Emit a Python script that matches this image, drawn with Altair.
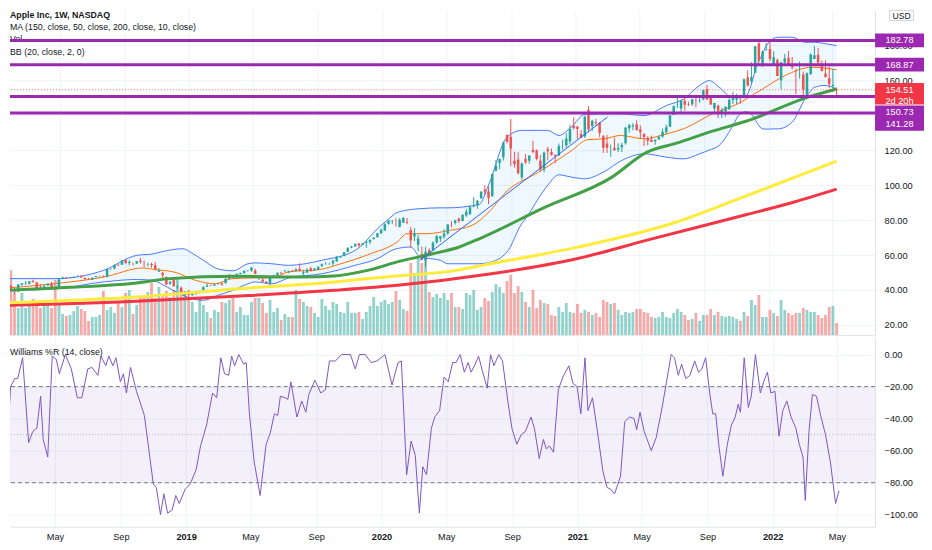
import altair as alt
import numpy as np
import pandas as pd

START = pd.Timestamp("2018-01-22")  # first weekly candle

# ---------------- weekly candles (USD, split adjusted) ----------------
open_2018 = [44.3, 42.5, 39.8, 39.2, 43.0, 43.8, 43.7, 45.1, 44.3, 42.0, 41.7, 42.5, 43.7, 41.4, 40.5, 46.3, 47.2, 47.0, 47.1, 47.9,
             48.0, 46.9, 46.4, 45.9, 47.4, 47.9, 48.0, 47.6, 51.9, 52.3, 54.5, 54.4, 57.1, 55.5, 54.5, 55.1, 56.8, 55.6, 54.7, 54.9,
             54.2, 50.5, 49.8, 47.5, 43.6, 46.1, 41.3, 41.3, 37.0]
high_2018 = [44.45, 42.9, 41.6, 43.3, 43.9, 45.1, 45.0, 45.9, 44.6, 43.4, 43.0, 43.9, 44.7, 41.8, 46.4, 47.6, 47.4, 47.4, 47.6, 48.5,
             48.6, 47.3, 46.9, 47.1, 48.0, 48.2, 48.4, 52.2, 52.4, 54.5, 54.6, 57.2, 57.4, 57.1, 55.7, 56.6, 58.4, 56.8, 55.7, 55.6,
             56.0, 52.5, 50.4, 47.7, 45.3, 46.2, 42.9, 42.1, 39.3]
low_2018 = [42.5, 40.0, 37.6, 39.0, 42.6, 42.9, 43.1, 44.3, 41.2, 40.6, 41.0, 42.4, 41.3, 40.2, 40.5, 46.2, 46.6, 46.6, 46.8, 47.6,
            47.1, 46.2, 45.9, 45.8, 47.0, 47.3, 47.5, 47.1, 51.5, 51.8, 53.8, 54.3, 55.2, 54.1, 54.1, 54.9, 55.1, 53.1, 53.5, 52.7,
            51.4, 50.5, 46.3, 43.0, 43.0, 41.9, 40.8, 37.6, 36.6]
close_2018 = [42.9, 40.1, 39.1, 43.1, 43.9, 44.0, 45.0, 44.5, 41.2, 41.9, 42.1, 43.5, 41.4, 40.6, 46.0, 47.1, 46.6, 47.1, 47.6, 47.9,
              47.2, 46.2, 46.3, 47.0, 47.8, 47.9, 47.7, 52.0, 51.9, 54.4, 54.0, 56.9, 55.3, 56.0, 54.4, 56.4, 56.1, 55.5, 54.8, 54.1,
              51.9, 51.1, 48.4, 43.1, 44.6, 42.1, 41.4, 37.7, 39.1]

open_2019 = [39.6, 37.2, 37.7, 39.1, 39.6, 41.9, 42.8, 42.4, 43.5, 43.9, 43.9, 46.5, 47.9, 47.9, 49.1, 49.6, 51.0, 51.1, 51.1, 46.9,
             45.9, 44.7, 43.9, 47.9, 48.2, 49.9, 50.8, 50.2, 51.0, 50.9, 52.1, 49.5, 49.9, 52.4, 51.5, 51.6, 53.7, 54.4, 54.7, 55.2,
             56.4, 58.7, 59.4, 61.9, 64.3, 65.0, 66.6, 65.7, 67.0, 67.5, 69.2, 70.1, 72.4]
high_2019 = [39.8, 38.6, 39.4, 39.5, 42.2, 43.9, 43.1, 43.4, 44.0, 44.4, 46.8, 49.1, 48.0, 49.3, 50.0, 51.0, 51.5, 53.0, 52.2, 48.1,
             47.0, 45.1, 48.0, 48.8, 50.2, 50.4, 51.3, 51.1, 51.5, 52.4, 55.3, 51.6, 52.5, 53.3, 52.6, 53.3, 55.1, 55.9, 55.6, 57.0,
             59.4, 59.5, 61.7, 64.5, 65.1, 66.4, 66.9, 66.9, 67.8, 68.8, 70.2, 72.6, 75.1]
low_2019 = [35.5, 36.5, 37.3, 37.9, 38.4, 41.7, 42.4, 42.4, 43.0, 42.4, 43.9, 46.4, 46.5, 47.1, 49.0, 49.5, 50.6, 50.4, 49.0, 45.7,
            44.5, 43.7, 42.6, 47.7, 48.1, 48.8, 50.1, 49.7, 50.4, 50.6, 50.8, 48.1, 49.8, 50.6, 50.9, 51.4, 53.1, 54.4, 54.3, 53.8,
            56.1, 58.3, 59.3, 61.6, 63.8, 64.6, 64.2, 65.6, 64.1, 66.2, 68.8, 70.1, 72.0]
close_2019 = [37.1, 38.1, 39.2, 39.4, 41.6, 42.6, 42.6, 43.2, 43.7, 43.2, 46.5, 47.8, 47.5, 49.3, 49.7, 51.0, 51.1, 52.9, 49.3, 47.3,
              44.7, 43.8, 47.5, 48.2, 49.7, 49.5, 51.1, 50.8, 50.6, 51.9, 51.0, 50.2, 51.6, 50.7, 52.2, 53.3, 54.7, 54.4, 54.7, 56.8,
              59.1, 59.1, 61.6, 64.0, 65.0, 66.4, 65.4, 66.8, 67.7, 68.8, 69.9, 72.4, 74.4]

open_2020 = [74.0, 77.9, 79.3, 77.5, 76.1, 78.5, 78.8, 74.3, 70.6, 65.9, 60.5, 57.0, 62.7, 62.7, 67.1, 69.5, 70.5, 72.3, 77.0, 78.3,
             80.9, 79.4, 82.6, 83.3, 87.8, 88.3, 92.5, 97.3, 96.4, 93.7, 108.2, 112.6, 115.9, 128.7, 127.6, 113.9, 114.7, 104.5, 115.0, 113.9,
             120.1, 120.0, 114.0, 109.1, 120.5, 118.9, 117.2, 117.0, 122.3, 122.6, 125.0, 134.0]
high_2020 = [78.2, 79.7, 80.0, 81.0, 81.2, 81.8, 81.2, 76.0, 75.4, 71.6, 64.8, 64.7, 63.9, 67.9, 71.6, 70.8, 74.8, 77.6, 79.3, 80.2,
             81.4, 83.4, 86.4, 88.3, 93.1, 91.5, 96.3, 99.9, 99.3, 106.4, 114.4, 115.0, 124.9, 129.0, 137.9, 119.1, 118.8, 112.9, 117.7, 117.0,
             125.4, 120.4, 117.3, 119.2, 122.0, 121.0, 117.6, 123.8, 126.0, 129.6, 134.4, 138.8]
low_2020 = [73.8, 77.4, 77.7, 76.2, 75.8, 78.5, 77.6, 64.1, 68.0, 62.0, 57.0, 53.2, 59.2, 62.3, 66.4, 67.5, 69.2, 71.6, 75.8, 77.4,
            78.3, 79.3, 81.8, 83.0, 87.3, 86.5, 92.0, 94.0, 89.1, 93.2, 107.9, 109.1, 114.0, 123.9, 110.9, 110.0, 106.1, 103.1, 112.2, 112.3,
            118.2, 114.1, 107.7, 107.3, 114.1, 116.8, 112.6, 116.8, 120.2, 121.5, 123.5, 131.7]
close_2020 = [77.6, 79.7, 79.6, 77.4, 80.0, 81.2, 78.3, 68.3, 72.3, 69.5, 57.3, 61.9, 60.4, 67.0, 70.7, 70.7, 72.3, 77.5, 76.9, 79.7,
              79.5, 82.9, 84.7, 87.4, 88.4, 91.0, 96.3, 96.3, 92.6, 106.3, 111.1, 115.0, 124.4, 124.8, 121.0, 112.0, 106.8, 112.3, 113.0, 117.0,
              119.0, 115.0, 108.9, 118.7, 119.3, 117.3, 116.6, 122.3, 122.4, 126.7, 132.0, 132.7]

open_2021 = [133.5, 129.2, 127.8, 143.1, 133.8, 136.0, 135.5, 128.0, 123.8, 120.9, 121.4, 120.3, 121.7, 123.9, 132.5, 133.5, 134.8, 132.0, 129.4, 126.8,
             126.0, 125.1, 126.2, 127.8, 130.3, 133.4, 140.1, 146.2, 143.8, 148.3, 146.4, 146.2, 148.5, 148.3, 149.0, 155.0, 150.6, 143.8, 145.5, 141.8,
             142.3, 143.4, 148.7, 149.0, 151.4, 150.4, 161.7, 159.4, 164.3, 181.1, 168.3, 177.1]
high_2021 = [133.6, 131.5, 139.7, 145.1, 137.4, 137.9, 136.0, 128.7, 128.7, 123.2, 127.2, 123.9, 124.2, 133.0, 135.0, 135.5, 137.1, 134.1, 129.5, 128.0,
             128.3, 126.2, 128.5, 132.4, 134.6, 140.0, 145.7, 150.0, 148.7, 149.8, 147.8, 149.4, 151.7, 150.9, 154.6, 157.3, 151.4, 147.1, 146.0, 144.2,
             144.9, 150.2, 153.2, 152.2, 151.6, 161.0, 165.7, 170.3, 179.6, 182.1, 176.9, 181.3]
low_2021 = [126.4, 126.9, 126.9, 130.2, 130.9, 133.7, 127.4, 118.4, 118.4, 116.2, 119.7, 118.9, 118.9, 123.1, 130.0, 131.3, 131.1, 126.7, 122.3, 122.8,
            124.6, 123.1, 125.8, 127.1, 129.2, 133.3, 140.1, 144.0, 141.7, 142.5, 145.2, 145.3, 144.5, 147.1, 148.6, 148.7, 145.8, 141.3, 138.3, 138.3,
            139.2, 143.2, 146.4, 146.4, 146.5, 149.6, 156.4, 157.8, 164.3, 169.7, 167.5, 177.1]
close_2021 = [132.1, 127.1, 139.1, 132.0, 136.8, 135.4, 129.9, 121.3, 121.4, 121.0, 120.0, 121.2, 123.0, 133.0, 134.2, 134.3, 131.5, 130.2, 127.5, 125.4,
              124.6, 125.9, 127.4, 130.5, 133.1, 140.0, 145.1, 146.4, 148.6, 145.9, 146.1, 149.1, 148.2, 148.6, 154.3, 149.0, 146.1, 146.9, 142.7, 142.9,
              144.8, 148.7, 149.8, 151.3, 150.0, 160.6, 156.8, 161.8, 179.5, 171.1, 176.3, 177.6]

open_2022 = [177.8, 169.1, 171.5, 160.0, 170.2, 172.9, 168.0, 165.0, 163.1, 163.4, 151.5, 163.5, 172.2, 174.6, 168.7, 163.9, 161.1, 156.7, 154.9]
high_2022 = [182.9, 176.6, 172.5, 170.4, 175.0, 176.7, 173.3, 166.7, 170.7, 165.0, 164.5, 175.3, 179.6, 178.5, 171.3, 171.3, 167.9, 166.5, 155.8]
low_2022 = [170.8, 168.2, 162.3, 154.7, 169.5, 168.2, 166.2, 152.0, 161.0, 150.1, 150.1, 163.0, 172.2, 169.2, 165.0, 161.5, 155.4, 153.3, 151.5]
close_2022 = [172.2, 173.1, 162.4, 170.3, 172.4, 168.6, 167.3, 164.9, 163.2, 154.7, 164.0, 174.7, 174.3, 170.1, 165.3, 161.8, 157.7, 157.3, 154.51]

# relative weekly volume (bar heights)
vol_a = [55, 65, 42, 27, 42, 27, 32, 36, 32, 27, 34, 35, 27, 55, 32, 21, 19, 20, 24, 29, 26, 24, 14, 18, 18, 20, 44, 25, 28, 22,
         32, 28, 42, 45, 21, 30, 37, 38, 43, 52, 37, 48, 40, 44, 38, 45, 57, 45, 43, 37, 33, 23, 38, 30, 23, 17, 25, 23, 33]
vol_b = [32, 35, 37, 23, 28, 20, 20, 33, 37, 37, 32, 22, 35, 23, 27, 15, 21, 18, 18, 45, 36, 33, 29, 28, 22, 18, 36, 29, 25, 33,
         31, 23, 22, 33, 22, 22, 23, 16, 23, 29, 38, 29, 33, 35, 31, 33, 44, 35, 26, 24, 72, 62, 78, 72, 80, 43, 38, 41, 37]
vol_c = [42, 35, 42, 28, 28, 26, 42, 40, 45, 25, 28, 37, 34, 43, 51, 48, 42, 54, 60, 42, 49, 43, 33, 28, 45, 27, 35, 32, 31, 20,
         19, 28, 23, 32, 23, 22, 31, 22, 25, 23, 20, 22, 18, 35, 33, 31, 32, 25, 20, 23, 22, 23, 26, 26, 23, 22]
vol_d = [18, 17, 18, 23, 18, 17, 22, 26, 23, 20, 15, 16, 22, 14, 20, 20, 26, 20, 23, 19, 18, 19, 18, 16, 14, 23, 19, 35, 30, 40,
         18, 18, 25, 22, 19, 35, 25, 22, 20, 22, 22, 27, 25, 23, 23, 20, 17, 20, 28, 29, 12]

# ---------------- indicator lines (week index from START, value) ----------------
ma200_k = [-0.5, 34.9, 61.6, 88.3, 106.1, 129.3, 154.1, 172.8, 199.5, 212.8, 224]
ma200_v = [31.2, 33.5, 36.4, 39.8, 42.8, 48.8, 58.0, 68.5, 83.0, 90.5, 97.7]
ma150_k = [-0.5, 34.9, 61.6, 88.3, 100.8, 122.1, 129.3, 154.1, 180.8, 198.7, 224]
ma150_v = [32.7, 36.0, 40.6, 44.6, 47.2, 51.5, 54.5, 64.5, 78.9, 93.1, 113.7]
ma50_k = [-0.5, 17.3, 34.9, 44.0, 61.6, 79.5, 88.3, 97.3, 106.1, 114.9, 122.1, 127.5, 145.3, 162.9, 172.8, 180.8, 190.7, 199.5, 216.3, 224]
ma50_v = [39.8, 41.5, 44.0, 46.5, 47.8, 47.4, 48.0, 51.2, 56.5, 60.7, 64.6, 69.3, 87.4, 104.0, 118.9, 124.0, 131.0, 136.5, 150.3, 155.0]
basis_k = [-0.5, 12.8, 26.1, 36.8, 39.5, 45.6, 50.9, 56.3, 60.8, 66.9, 71.5, 76.0, 84.8, 89.3, 98.1, 105.3, 108.0, 113.3, 119.5, 125.6,
           130.1, 134.7, 143.5, 152.3, 156.8, 161.3, 165.6, 172.0, 178.1, 183.0, 190.7, 196.8, 204.0, 210.1, 217.3, 224.0]
basis_v = [41.1, 43.6, 47.4, 52.6, 51.8, 50.0, 45.5, 43.6, 46.5, 46.9, 46.9, 50.3, 51.8, 54.5, 60.7, 67.4, 72.2, 72.2, 74.1, 77.0,
           84.6, 96.0, 107.4, 119.5, 126.0, 126.5, 128.4, 126.5, 129.3, 132.5, 141.0, 146.0, 155.0, 162.7, 167.4, 166.0]
bb_k = [-0.5, 13, 26, 35, 39.5, 42, 47.5, 50, 53, 57, 61, 65, 67, 71.5, 76, 85, 94, 101, 103, 105,
        109, 111.5, 117, 119, 127.5, 130, 135, 139, 140, 144, 146, 149, 152.3, 156, 161, 166, 172, 178, 182.7, 187,
        189.6, 192.3, 196, 197.6, 199.5, 201.3, 202.1, 204, 205, 208.3, 212, 215.5, 218.1, 220.8, 224]
bb_upper = [46.5, 46.5, 51.2, 59.8, 60.7, 62, 63.6, 61, 57, 52, 51, 55, 55.5, 55, 54.1, 57, 62.7, 77, 80.5, 84,
            86, 86.5, 87, 87, 89, 100, 127.4, 131.3, 131.3, 131.3, 131.3, 128.4, 133.1, 140.5, 140.7, 140.7, 139.8, 145.5, 149.3, 157,
            159.8, 156, 150, 150, 151, 160, 166.5, 175, 179.8, 184.6, 184.6, 181.7, 181.7, 181, 179.8]
bb_lower = [39.8, 40.7, 44.6, 46, 45.5, 43, 37, 35, 34.1, 37, 39.8, 43.5, 44.6, 43.5, 46.9, 49.3, 54.1, 59, 61.7, 63.5,
            64.6, 58.9, 57, 55, 55, 55.6, 61.7, 78, 80.7, 94.1, 100, 105.9, 104.6, 103.6, 107.4, 114.1, 117.9, 116, 115, 117.9,
            120, 122.7, 134, 140, 142, 139.8, 137, 132.2, 132, 132.2, 136, 149.3, 156, 157, 155]
trend_k = [111.5, 162.1]
trend_v = [57.1, 138.9]

levels = [182.78, 168.87, 150.73, 141.28]

# Williams %R (14, close)
wr_k = [-0.5, 0.3, 2.3, 3.4, 4.2, 5.5, 7.1, 8.2, 9.3, 10.3, 11.0, 12.2, 13.4, 14.5, 15.3, 16.9, 18.5, 20.1, 21.3, 22.9,
        24.0, 25.6, 26.4, 27.7, 28.5, 29.6, 30.4, 31.6, 32.4, 33.2, 34.3, 35.9, 38.0, 40.4, 41.2, 42.3, 43.2, 44.2, 45.4, 46.4,
        47.3, 48.9, 50.2, 51.8, 53.0, 54.6, 56.2, 57.3, 58.4, 59.4, 60.5, 61.3, 62.1, 63.2, 64.5, 65.2, 66.0, 67.3, 68.9, 70.5,
        71.6, 72.7, 73.6, 74.3, 75.6, 76.3, 77.1, 78.7, 80.0, 81.1, 81.9, 83.5, 85.1, 86.3, 87.4, 89.0, 90.6, 93.0, 94.3, 95.4,
        97.0, 98.5, 100.1, 102.2, 104.1, 105.7, 106.6, 108.0, 109.2, 110.3, 111.4, 112.3, 113.3, 114.6, 115.5, 116.8, 118.0, 119.1, 120.3, 121.2,
        122.3, 123.4, 124.4, 125.2, 126.3, 127.2, 128.2, 129.5, 130.4, 131.3, 132.6, 133.6, 135.0, 136.1, 137.4, 138.6, 139.7, 141.2, 142.1, 143.4,
        144.5, 145.3, 146.1, 147.2, 148.5, 149.7, 151.3, 152.4, 153.5, 154.5, 155.6, 156.4, 157.6, 158.8, 160.4, 161.5, 162.4, 163.5, 165.1, 166.2,
        167.5, 168.7, 169.4, 170.3, 171.4, 173.3, 174.6, 176.2, 177.3, 178.6, 179.5, 180.5, 181.4, 182.5, 183.6, 184.9, 185.9, 186.8, 187.8, 188.9,
        189.7, 190.5, 191.3, 192.4, 193.6, 194.7, 195.7, 196.5, 197.1, 198.1, 199.2, 200.0, 201.1, 202.4, 203.3, 204.3, 205.2, 206.3, 207.4, 208.4,
        209.5, 210.6, 211.9, 212.8, 213.8, 214.4, 215.4, 216.3, 217.4, 218.5, 219.8, 221.1, 222.5, 223.4]
wr_v = [-44, -98, -20, -15, -15, -2, -55, -48, -46, -26, -53, -64, -1, -3, -12, 0, -9, -27, -27, -9,
        -8, -13, -1, -7, -1, -7, -2, -17, -12, -24, -8, -23, -38, -81, -83, -100, -87, -99, -97, -88,
        -93, -84, -81, -72, -57, -44, -24, -27, -2, -12, -13, -1, -7, 0, -6, -5, -36, -67, -88, -56,
        -49, -37, -38, -26, -27, -28, -17, -39, -29, -36, -25, -16, -24, -22, -4, -4, 0, 0, -9, 0,
        0, -5, -4, 0, -19, -5, -4, -75, -54, -63, -99, -70, -75, -46, -39, -35, -14, -17, -5, -5,
        0, -11, -5, -11, -6, -1, -10, -21, 0, -7, 0, -4, -29, -46, -56, -50, -48, -39, -46, -65,
        -53, -59, -57, -61, -22, -14, -7, -18, -20, -37, -2, -35, -27, -46, -73, -83, -84, -87, -76, -42,
        -39, -40, -47, -36, -48, -60, -52, -33, -18, 0, -2, -13, -6, -15, -13, -4, -11, -9, -2, -24,
        -37, -37, -56, -76, -56, -44, -39, -31, -36, -2, -33, -26, 0, -24, -17, -11, -24, -23, -51, -35,
        -29, -39, -46, -56, -64, -91, -48, -25, -26, -38, -50, -67, -93, -85]
wr_levels = [-20, -80]

price_ticks = [20, 40, 60, 80, 100, 120, 140, 160, 180]
hidden_price_labels = [140]          # covered by the price tags in the original
wr_ticks = [0, -20, -40, -60, -80, -100]
month_ticks = [(2018, 5), (2018, 9), (2019, 1), (2019, 5), (2019, 9), (2020, 1), (2020, 5), (2020, 9),
               (2021, 1), (2021, 5), (2021, 9), (2022, 1), (2022, 5)]

# ---------------- build tables ----------------
FMT = "%Y-%m-%dT%H:%M:%S"
opens = open_2018 + open_2019 + open_2020 + open_2021 + open_2022
highs = high_2018 + high_2019 + high_2020 + high_2021 + high_2022
lows = low_2018 + low_2019 + low_2020 + low_2021 + low_2022
closes = close_2018 + close_2019 + close_2020 + close_2021 + close_2022
volume = vol_a + vol_b + vol_c + vol_d
n = len(closes)
dates = pd.date_range(START, periods=n, freq="7D")


def kdates(ks):
    return [(START + pd.Timedelta(days=7 * k)).strftime(FMT) for k in ks]


cdf = pd.DataFrame({"date": [d.strftime(FMT) for d in dates], "open": opens, "high": highs,
                    "low": lows, "close": closes, "vol": volume})
cdf["dir"] = np.where(cdf["close"] >= cdf["open"], "up", "down")


def line_df(ks, vs):
    return pd.DataFrame({"date": kdates(ks), "v": vs})


bbdf = pd.DataFrame({"date": kdates(bb_k), "up": bb_upper, "lo": bb_lower})
wrdf = line_df(wr_k, wr_v)

# ---------------- styles ----------------
W, H1, H2 = 866, 325, 190
FONT = "Liberation Sans"
TXT = "#131722"
GRID = "#f0f3fa"
BORDER = "#e0e3eb"
UP, DOWN = "#26a69a", "#ef5350"
PURPLE = "#9c27b0"
FS = 9.2

xscale = alt.Scale(domain=[alt.DateTime(year=2018, month=2, date=5, hours=22),
                           alt.DateTime(year=2022, month=7, date=11, hours=5)])
tick_vals = [alt.DateTime(year=y, month=m, date=1) for (y, m) in month_ticks]
dir_color = alt.Color("dir:N", scale=alt.Scale(domain=["up", "down"], range=[UP, DOWN]), legend=None)


def XM():
    return alt.X("date:T", scale=xscale, title=None,
                 axis=alt.Axis(values=tick_vals, grid=True, gridColor=GRID, labels=False, ticks=False,
                               domain=True, domainColor=BORDER))


def XW():
    return alt.X("date:T", scale=xscale, title=None,
                 axis=alt.Axis(values=tick_vals, grid=True, gridColor=GRID, ticks=False, domain=True,
                               domainColor=BORDER, labelColor=TXT, labelFontSize=FS, labelFont=FONT,
                               labelPadding=6, labelFlush=False, labelOverlap=False,
                               labelExpr="month(datum.value) == 0 ? timeFormat(datum.value, '%Y') : timeFormat(datum.value, '%b')",
                               labelFontWeight={"condition": {"test": "month(datum.value) == 0", "value": "bold"},
                                                "value": "normal"}))


hide_test = " || ".join(f"datum.value == {v}" for v in hidden_price_labels)
yscale = alt.Scale(domain=[14.29, 200.0], nice=False, zero=False)
yaxis = alt.Axis(orient="right", values=price_ticks, grid=True, gridColor=GRID, ticks=False,
                 domain=True, domainColor=BORDER, labelPadding=9, labelColor=TXT, labelFontSize=FS,
                 labelFont=FONT, labelOverlap=False,
                 labelExpr=f"({hide_test}) ? '' : format(datum.value, '.2f')")


def YP(f):
    return alt.Y(f"{f}:Q", scale=yscale, axis=yaxis, title=None)


wscale = alt.Scale(domain=[-107.5, 11], nice=False, zero=False)
waxis = alt.Axis(orient="right", values=wr_ticks, format=".2f", grid=True, gridColor=GRID, ticks=False,
                 domain=True, domainColor=BORDER, labelPadding=9, labelColor=TXT, labelFontSize=FS,
                 labelFont=FONT, labelOverlap=False)


def YW(f):
    return alt.Y(f"{f}:Q", scale=wscale, axis=waxis, title=None)


# ---------------- main pane ----------------
vol_layer = alt.Chart(cdf).mark_bar(size=2.8, opacity=0.5, clip=True).encode(
    x=XM(), y=alt.Y("vol:Q", scale=alt.Scale(domain=[0, 325], nice=False), axis=None, title=None),
    color=dir_color)

layers = []
layers.append(alt.Chart(bbdf).mark_area(color="#2196f3", opacity=0.07, interpolate="monotone", clip=True)
              .encode(x=XM(), y=YP("up"), y2="lo"))
for col in ["up", "lo"]:
    layers.append(alt.Chart(bbdf).mark_line(color="#2962ff", strokeWidth=1, opacity=0.85,
                                            interpolate="monotone", clip=True)
                  .encode(x=XM(), y=YP(col)))
layers.append(alt.Chart(line_df(basis_k, basis_v)).mark_line(color="#ff6d00", strokeWidth=1,
                                                            interpolate="monotone", clip=True)
              .encode(x=XM(), y=YP("v")))
layers.append(alt.Chart(cdf).mark_rule(strokeWidth=1, clip=True).encode(x=XM(), y=YP("low"), y2="high",
                                                                       color=dir_color))
layers.append(alt.Chart(cdf).mark_bar(size=2.5, clip=True).encode(x=XM(), y=YP("open"), y2="close",
                                                                 color=dir_color))
for ks, vs, col in [(ma200_k, ma200_v, "#f23645"), (ma150_k, ma150_v, "#ffeb3b"), (ma50_k, ma50_v, "#43a047")]:
    layers.append(alt.Chart(line_df(ks, vs)).mark_line(color=col, strokeWidth=3, interpolate="monotone", clip=True)
                  .encode(x=XM(), y=YP("v")))
layers.append(alt.Chart(line_df(trend_k, trend_v)).mark_line(color="#2962ff", strokeWidth=1, clip=True)
              .encode(x=XM(), y=YP("v")))

legend_lines = [("Apple Inc, 1W, NASDAQ", "bold", 4.8), ("MA (150, close, 50, close, 200, close, 10, close)", "normal", 16.5),
                ("Vol", "normal", 28.5), ("BB (20, close, 2, 0)", "normal", 41.3)]
for txt, wt, yy in legend_lines:
    layers.append(alt.Chart(pd.DataFrame({"t": [txt]})).mark_text(align="left", baseline="middle", fontSize=8.8,
                                                                 fontWeight=wt, color=TXT, font=FONT)
                  .encode(x=alt.value(0), y=alt.value(yy), text="t:N"))

lvdf = pd.DataFrame({"level": levels})
layers.append(alt.Chart(lvdf).mark_rule(color=PURPLE, strokeWidth=3).encode(y=YP("level")))
lastdf = pd.DataFrame({"level": [closes[-1]], "label": [f"{closes[-1]:.2f}"], "sub": ["2d 20h"]})
layers.append(alt.Chart(lastdf).mark_rule(color="#f23645", strokeWidth=1, strokeDash=[1, 2], opacity=0.7)
              .encode(y=YP("level")))

TAG = "M-1,-0.28L1,-0.28L1,0.28L-1,0.28Z"
TAG_RED = "M-1,-0.28L1,-0.28L1,0.6L-1,0.6Z"
BOX = "M-1,-0.42L1,-0.42L1,0.42L-1,0.42Z"
TX = W + 24.5
tag_shift = [0, 0, 16, 11]
for lv, sh in zip(levels, tag_shift):
    tdf = pd.DataFrame({"level": [lv], "label": [f"{lv:.2f}"]})
    layers.append(alt.Chart(tdf).mark_point(shape=TAG, size=2401, filled=True, opacity=1, color=PURPLE,
                                            yOffset=sh, clip=False)
                  .encode(x=alt.value(TX), y=YP("level")))
    layers.append(alt.Chart(tdf).mark_text(color="white", fontSize=FS, font=FONT, align="center",
                                           baseline="middle", yOffset=sh, clip=False)
                  .encode(x=alt.value(TX), y=YP("level"), text="label:N"))
layers.append(alt.Chart(lastdf).mark_point(shape=TAG_RED, size=2401, filled=True, opacity=1, color="#f23645",
                                           clip=False)
              .encode(x=alt.value(TX), y=YP("level")))
layers.append(alt.Chart(lastdf).mark_text(color="white", fontSize=FS, font=FONT, align="center", baseline="middle",
                                          clip=False)
              .encode(x=alt.value(TX), y=YP("level"), text="label:N"))
layers.append(alt.Chart(lastdf).mark_text(color="white", fontSize=FS, font=FONT, align="center", baseline="middle",
                                          yOffset=11, clip=False)
              .encode(x=alt.value(TX), y=YP("level"), text="sub:N"))
usd = pd.DataFrame({"t": ["USD"]})
layers.append(alt.Chart(usd).mark_point(shape=BOX, size=24 * 24, filled=True, opacity=1, fill="white",
                                        stroke="#d1d4dc", strokeWidth=1, clip=False)
              .encode(x=alt.value(W + 26.5), y=alt.value(5.2)))
layers.append(alt.Chart(usd).mark_text(color=TXT, fontSize=8.6, font=FONT, align="center", baseline="middle",
                                       clip=False)
              .encode(x=alt.value(W + 26.5), y=alt.value(5.6), text="t:N"))

price_group = alt.layer(*layers)
main = alt.layer(vol_layer, price_group).resolve_scale(y="independent").properties(width=W, height=H1)

# ---------------- Williams %R pane ----------------
band = alt.Chart(pd.DataFrame({"a": [wr_levels[0]], "b": [wr_levels[1]]})).mark_rect(color="#7e57c2", opacity=0.09).encode(
    x=alt.value(0), x2=alt.value(W), y=YW("a"), y2="b")
dash = alt.Chart(pd.DataFrame({"v": wr_levels})).mark_rule(color="#787b86", strokeDash=[4, 3], strokeWidth=1).encode(
    y=YW("v"))
mid = alt.Chart(pd.DataFrame({"v": [-50]})).mark_rule(color="#787b86", strokeDash=[1, 2], strokeWidth=1,
                                                      opacity=0.5).encode(y=YW("v"))
wline = alt.Chart(wrdf).mark_line(color="#7e57c2", strokeWidth=1, clip=True).encode(x=XW(), y=YW("v"))
wlabel = alt.Chart(pd.DataFrame({"t": ["Williams %R (14, close)"]})).mark_text(
    align="left", baseline="middle", fontSize=8.8, color=TXT, font=FONT).encode(
    x=alt.value(0), y=alt.value(15), text="t:N")
wr = alt.layer(band, dash, mid, wline, wlabel).properties(width=W, height=H2)

chart = (alt.vconcat(main, wr, spacing=2)
         .properties(padding={"left": 0, "top": 0, "right": 0, "bottom": 0})
         .configure(font=FONT, background="white")
         .configure_view(strokeWidth=0))

chart.save("out.html", embed_options={"renderer": "svg", "actions": False})
